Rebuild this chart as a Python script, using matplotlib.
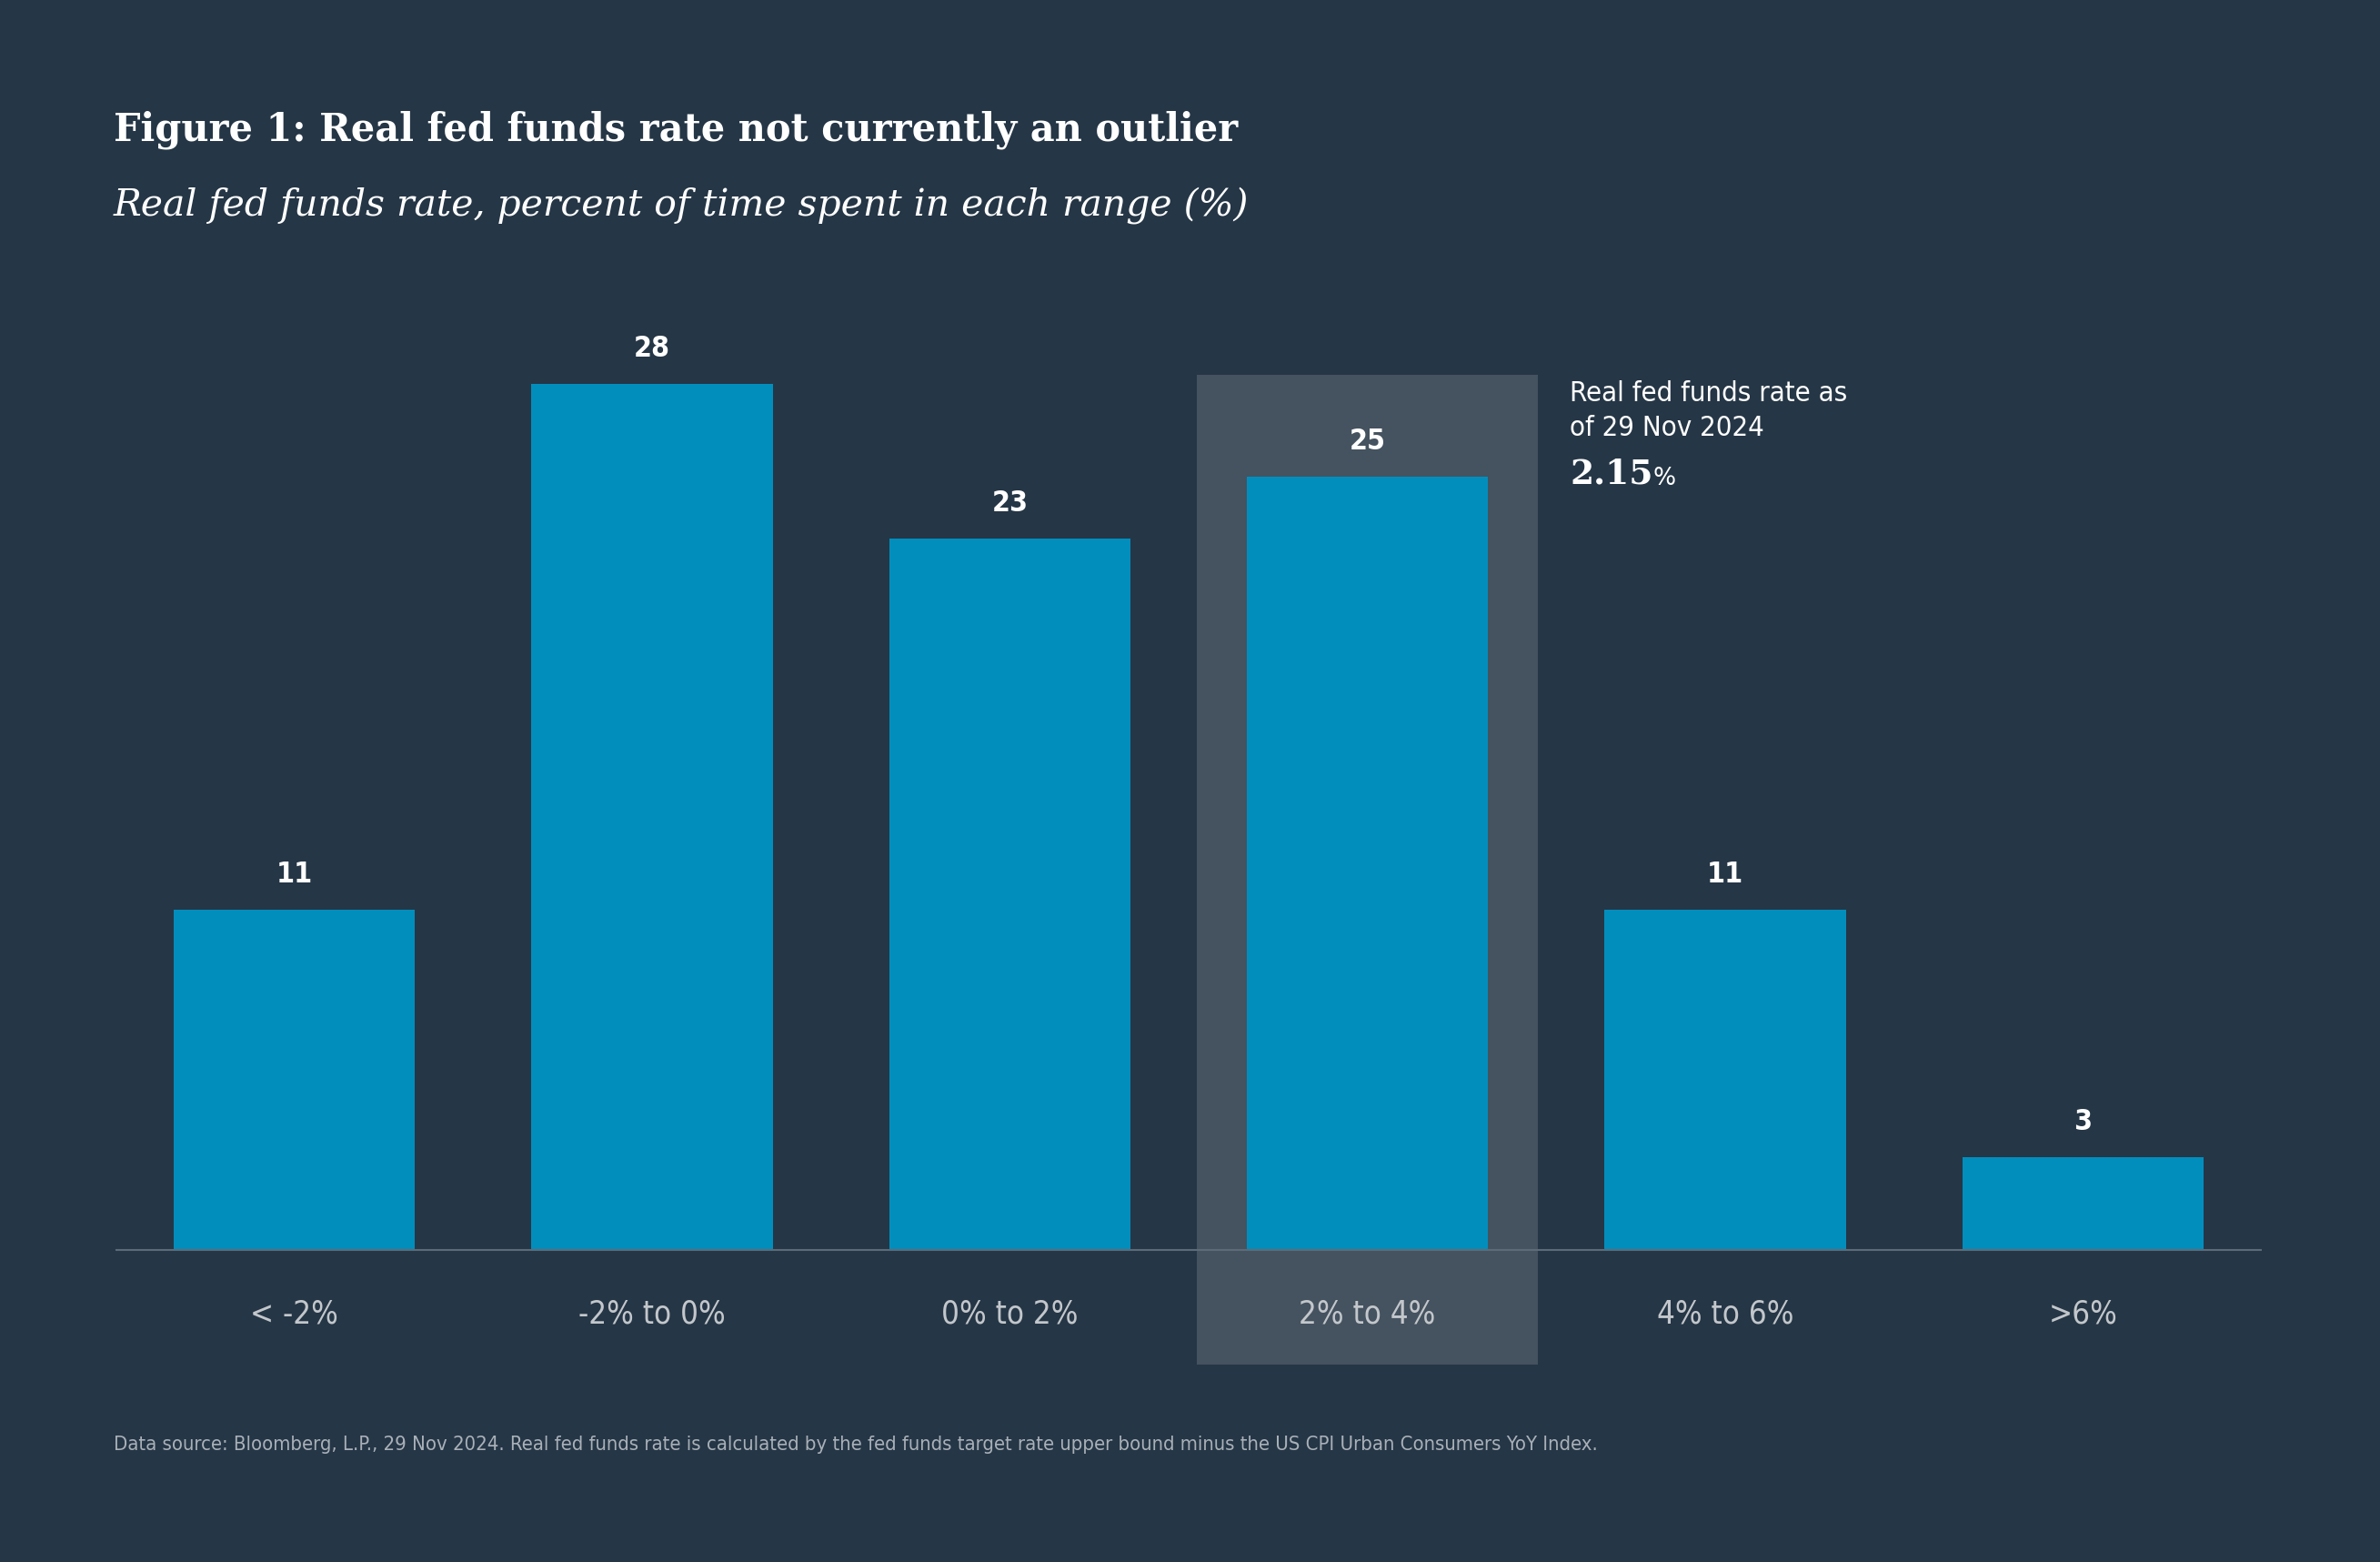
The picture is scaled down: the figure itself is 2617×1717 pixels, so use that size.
import matplotlib
matplotlib.use("Agg")
import matplotlib.pyplot as plt
from matplotlib.patches import Rectangle

########### data ###########
categories = ["< -2%", "-2% to 0%", "0% to 2%", "2% to 4%", "4% to 6%", ">6%"]
pct_time = [11, 28, 23, 25, 11, 3]
highlight_idx = 3
current_rate = "2.15"

title = "Figure 1: Real fed funds rate not currently an outlier"
subtitle = "Real fed funds rate, percent of time spent in each range (%)"
note_lines = ["Real fed funds rate as", "of 29 Nov 2024"]
source = ("Data source: Bloomberg, L.P., 29 Nov 2024. Real fed funds rate is calculated by the fed "
          "funds target rate upper bound minus the US CPI Urban Consumers YoY Index.")

########### style ###########
bg = "#253646"
bar_col = "#028ebd"
hl_col = "#45525f"
sans = ["DejaVu Sans"]
serif = ["DejaVu Serif"]

W, H = 2617, 1717
fig = plt.figure(figsize=(W / 100, H / 100), dpi=100, facecolor=bg)
ax = fig.add_axes([127 / W, (H - 1510) / H, 2360 / W, 1156 / H])
ax.set_facecolor(bg)

x = list(range(len(categories)))
ax.bar(x, pct_time, width=0.675, color=bar_col, zorder=3)

# highlighted range box
ax.add_patch(Rectangle((highlight_idx - 0.476, -3.7), 0.952, 32.0,
                       facecolor=hl_col, edgecolor="none", zorder=1, clip_on=False))

ax.axhline(0, color="#5d6b78", lw=1.5, zorder=4)

for xi, v in zip(x, pct_time):
    ax.annotate(str(v), (xi, v), xytext=(0, 28), textcoords="offset points",
                ha="center", va="center", color="white", fontsize=23,
                fontweight="bold", family=sans, stretch="condensed", zorder=5)

ax.set_xlim(-0.5, 5.5)
ax.set_ylim(-4, 30)
ax.set_yticks([])
ax.set_xticks(x)
ax.set_xticklabels(categories, family=sans, fontsize=25, color="#c3c7cb",
                   stretch="condensed")
ax.tick_params(axis="x", length=0, pad=0)
# tick labels sit ~70 px below the baseline
off = matplotlib.transforms.ScaledTranslation(0, -0.70 + 1.36, fig.dpi_scale_trans)
for lab in ax.get_xticklabels():
    lab.set_verticalalignment("center")
    lab.set_transform(lab.get_transform() + off)
for s in ax.spines.values():
    s.set_visible(False)

# titles
fig.text(125 / W, 1 - 155 / H, title, family=serif, fontweight="bold",
         fontsize=29.9, color="white", va="baseline")
fig.text(125 / W, 1 - 237 / H, subtitle, family=serif, style="italic",
         fontsize=29.4, color="white", va="baseline")

# annotation
fig.text(1726 / W, 1 - 441 / H, note_lines[0], family=sans, fontsize=22.3,
         stretch="condensed", color="white", va="baseline")
fig.text(1726 / W, 1 - 479 / H, note_lines[1], family=sans, fontsize=22.3,
         stretch="condensed", color="white", va="baseline")
t = fig.text(1726 / W, 1 - 531 / H, current_rate, family=serif, fontweight="bold",
             fontsize=27, color="white", va="baseline")
ax.annotate("%", xy=(1, 0), xycoords=t, xytext=(0, 0), textcoords="offset points",
            family=sans, fontsize=19, color="white", va="bottom", ha="left")

# footnote
fig.text(125 / W, 1 - 1594 / H, source, family=sans, fontsize=15.8,
         stretch="condensed", color="#a9b0b8", va="baseline")

fig.savefig("out.png", dpi=100, facecolor=bg)
